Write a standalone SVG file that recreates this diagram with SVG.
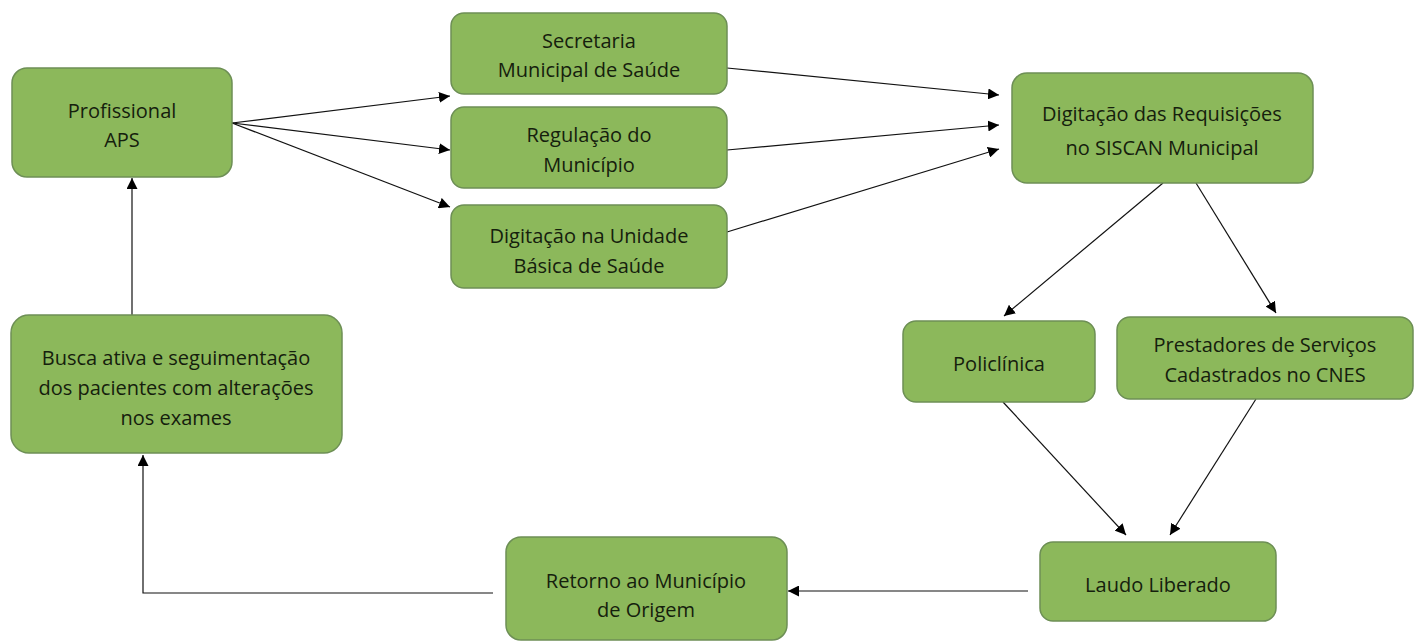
<svg xmlns="http://www.w3.org/2000/svg" width="1428" height="641" viewBox="0 0 1428 641">
<style>
.n{fill:#8cb85b;stroke:#6d8f55;stroke-width:1.5}
.t{font-family:"Open Sans","Liberation Sans",sans-serif;font-size:20px;fill:#15200d;text-anchor:middle}
.c{fill:none;stroke:#111;stroke-width:1.2}
</style>
<defs>
<marker id="a" viewBox="0 0 10 10" refX="10" refY="5" markerWidth="11" markerHeight="11" markerUnits="userSpaceOnUse" orient="auto">
<path d="M0,0 L10,5 L0,10 z" fill="#000"/>
</marker>
</defs>
<g id="connectors">
<line class="c" x1="232" y1="123" x2="450" y2="96" marker-end="url(#a)"/>
<line class="c" x1="232" y1="123" x2="450" y2="150" marker-end="url(#a)"/>
<line class="c" x1="232" y1="123" x2="450" y2="207" marker-end="url(#a)"/>
<line class="c" x1="727" y1="68" x2="999" y2="95" marker-end="url(#a)"/>
<line class="c" x1="727" y1="150" x2="999" y2="125" marker-end="url(#a)"/>
<line class="c" x1="727" y1="232" x2="999" y2="149" marker-end="url(#a)"/>
<line class="c" x1="1163" y1="183" x2="1004" y2="316" marker-end="url(#a)"/>
<line class="c" x1="1196" y1="183" x2="1276" y2="313" marker-end="url(#a)"/>
<line class="c" x1="1003" y1="402" x2="1126" y2="535" marker-end="url(#a)"/>
<line class="c" x1="1256" y1="399" x2="1170" y2="535" marker-end="url(#a)"/>
<line class="c" x1="1028" y1="591" x2="788" y2="591" marker-end="url(#a)"/>
<polyline class="c" points="493,593 143,593 143,455" marker-end="url(#a)"/>
<line class="c" x1="132" y1="315" x2="132" y2="178" marker-end="url(#a)"/>
</g>
<g id="n-aps"><rect class="n" x="12" y="68" width="220" height="109" rx="15"/><text class="t" x="122" y="118">Profissional</text><text class="t" x="122" y="147">APS</text></g>
<g id="n-sec"><rect class="n" x="451" y="13" width="276" height="81" rx="13"/><text class="t" x="589" y="48">Secretaria</text><text class="t" x="589" y="77">Municipal de Saúde</text></g>
<g id="n-reg"><rect class="n" x="451" y="107" width="276" height="81" rx="13"/><text class="t" x="589" y="142">Regulação do</text><text class="t" x="589" y="172">Município</text></g>
<g id="n-ubs"><rect class="n" x="451" y="205" width="276" height="83" rx="13"/><text class="t" x="589" y="243">Digitação na Unidade</text><text class="t" x="589" y="273">Básica de Saúde</text></g>
<g id="n-req"><rect class="n" x="1012" y="73" width="301" height="110" rx="15"/><text class="t" x="1162" y="121">Digitação das Requisições</text><text class="t" x="1162" y="155">no SISCAN Municipal</text></g>
<g id="n-pol"><rect class="n" x="903" y="321" width="192" height="81" rx="13"/><text class="t" x="999" y="371">Policlínica</text></g>
<g id="n-pre"><rect class="n" x="1117" y="317" width="296" height="82" rx="13"/><text class="t" x="1265" y="352">Prestadores de Serviços</text><text class="t" x="1265" y="382">Cadastrados no CNES</text></g>
<g id="n-lau"><rect class="n" x="1040" y="542" width="236" height="79" rx="13"/><text class="t" x="1158" y="592">Laudo Liberado</text></g>
<g id="n-ret"><rect class="n" x="506" y="537" width="281" height="103" rx="15"/><text class="t" x="646" y="588">Retorno ao Município</text><text class="t" x="646" y="617">de Origem</text></g>
<g id="n-bus"><rect class="n" x="11" y="315" width="331" height="138" rx="18"/><text class="t" x="176" y="365">Busca ativa e seguimentação</text><text class="t" x="176" y="395">dos pacientes com alterações</text><text class="t" x="176" y="425">nos exames</text></g>
</svg>
